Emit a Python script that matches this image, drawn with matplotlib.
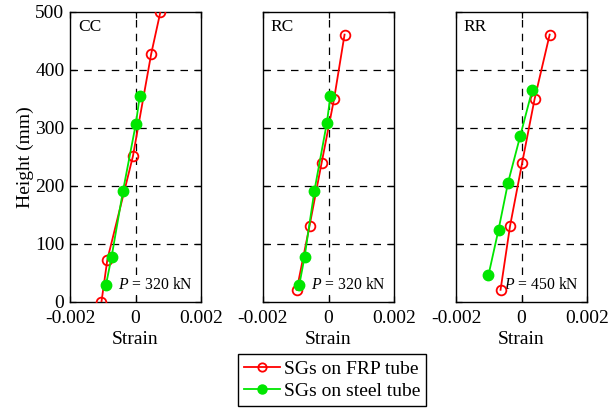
import matplotlib
matplotlib.use("Agg")
import matplotlib.pyplot as plt
from matplotlib.lines import Line2D

plt.rcParams['font.family'] = ['Liberation Serif', 'DejaVu Serif']
plt.rcParams['mathtext.fontset'] = 'custom'
plt.rcParams['mathtext.it'] = 'Liberation Serif:italic'
plt.rcParams['mathtext.rm'] = 'Liberation Serif'

panels = ["CC", "RC", "RR"]
loads = ["320", "320", "450"]

frp_strain = [
    [-0.00104, -0.00086, -0.00008, 0.00048, 0.00076],
    [-0.00097, -0.00058, -0.00021, 0.00017, 0.00049],
    [-0.00064, -0.00035, 0.00002, 0.00040, 0.00086],
]
frp_height = [
    [0, 73, 251, 428, 500],
    [21, 131, 240, 350, 461],
    [21, 131, 240, 350, 461],
]
steel_strain = [
    [-0.00090, -0.00073, -0.00038, 0.00001, 0.00013],
    [-0.00089, -0.00073, -0.00043, -0.00005, 0.00006],
    [-0.00101, -0.00070, -0.00041, -0.00004, 0.00033],
]
steel_height = [
    [30, 78, 192, 307, 355],
    [30, 78, 192, 309, 356],
    [46, 125, 206, 286, 366],
]

xticks = [-0.002, 0, 0.002]
xticklabels = ["-0.002", "0", "0.002"]
yticks = [0, 100, 200, 300, 400, 500]

RED = '#ff0000'
GREEN = '#00e600'

W, H = 610, 412
fig = plt.figure(figsize=(W / 100, H / 100), dpi=100)

lefts = [70, 263, 456]
width = 131
top, bottom = 12, 302

for i in range(3):
    ax = fig.add_axes([lefts[i] / W, 1 - bottom / H, width / W, (bottom - top) / H])
    ax.set_xlim(-0.002, 0.002)
    ax.set_ylim(0, 500)
    for yv in [100, 200, 300, 400]:
        ax.axhline(yv, color='black', lw=0.9, ls=(0, (6, 5)), zorder=1)
    ax.axvline(0, color='black', lw=0.9, ls=(0, (6, 5)), zorder=1)
    ax.plot(frp_strain[i], frp_height[i], color=RED, lw=1.3, marker='o',
            ms=7, mfc='none', mec=RED, mew=1.3, zorder=3)
    ax.plot(steel_strain[i], steel_height[i], color=GREEN, lw=1.3, marker='o',
            ms=7.5, mfc=GREEN, mec=GREEN, zorder=4)
    ax.set_xticks(xticks)
    ax.set_xticklabels(xticklabels, fontsize=14)
    ax.set_yticks(yticks)
    if i == 0:
        ax.set_yticklabels([str(v) for v in yticks], fontsize=14)
        ax.set_ylabel("Height (mm)", fontsize=14, labelpad=1)
    else:
        ax.set_yticklabels([])
    ax.tick_params(direction='in', length=4, width=0.9, top=True, right=True)
    ax.tick_params(axis='x', pad=6)
    ax.tick_params(axis='y', pad=4)
    ax.set_xlabel("Strain", fontsize=14, labelpad=3)
    for s in ax.spines.values():
        s.set_linewidth(1.0)
    ax.text(0.06, 0.975, panels[i], transform=ax.transAxes, fontsize=12.5,
            ha='left', va='top')
    ax.text(0.94, 0.058, r"$P$ = " + loads[i] + " kN", transform=ax.transAxes,
            fontsize=11.3, ha='right', va='center', zorder=2,
            bbox=dict(facecolor='white', edgecolor='none', pad=0.3))

handles = [
    Line2D([], [], color=RED, lw=1.3, marker='o', ms=6, mfc='none',
           mec=RED, mew=1.3),
    Line2D([], [], color=GREEN, lw=1.3, marker='o', ms=6.5, mfc=GREEN,
           mec=GREEN),
]
fig.legend(handles, ["SGs on FRP tube", "SGs on steel tube"],
           loc='center', bbox_to_anchor=(332 / W, 1 - 380 / H), fontsize=14,
           frameon=True, fancybox=False, edgecolor='black', framealpha=1,
           handlelength=1.85, handletextpad=0.2, borderpad=0.3,
           labelspacing=0.25, borderaxespad=0)

fig.savefig("out.png", dpi=100)
